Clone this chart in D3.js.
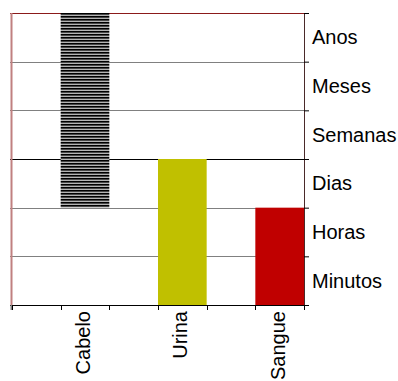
<!DOCTYPE html>
<html>
<head>
<meta charset="utf-8">
<script src="https://cdn.jsdelivr.net/npm/d3@7"></script>
<style>
  body { margin: 0; background: #fff; }
  text { font-family: "Liberation Sans", Arial, sans-serif; }
</style>
</head>
<body>
<div id="chart"></div>
<script>
// data
var categories = ["Cabelo", "Urina", "Sangue"];
var barStart = [2, 0, 0];
var barEnd = [6, 3, 2];
var levels = ["Minutos", "Horas", "Dias", "Semanas", "Meses", "Anos"];
var barFills = ["url(#stripes)", "#c0c000", "#c00000"];

var W = 398, H = 381;
var margin = {top: 13, right: 94, bottom: 76, left: 12},
    width = W - margin.left - margin.right,
    height = H - margin.top - margin.bottom;

var svg = d3.select("#chart").append("svg")
    .attr("width", W)
    .attr("height", H);

// striped pattern for Cabelo
var pat = svg.append("defs").append("pattern")
    .attr("id", "stripes")
    .attr("patternUnits", "userSpaceOnUse")
    .attr("width", 4)
    .attr("height", 3);
pat.append("rect").attr("width", 4).attr("height", 3).attr("fill", "#b4b4b4");
pat.append("rect").attr("width", 4).attr("height", 1.6).attr("fill", "#000");

var g = svg.append("g")
    .attr("transform", "translate(" + margin.left + "," + margin.top + ")");

var x = d3.scaleBand()
    .domain(categories)
    .range([0, width])
    .padding(0);

var y = d3.scaleLinear()
    .domain([0, levels.length])
    .range([height, 0]);

var bw = x.bandwidth();

// horizontal grid
var gridColors = ["#000", "#808080", "#808080", "#000", "#808080", "#808080", "#8b1a1a"];
g.selectAll(".grid")
  .data(d3.range(levels.length + 1))
  .enter().append("line")
    .attr("x1", -2)
    .attr("x2", width)
    .attr("y1", function(d) { return Math.round(y(d)) + 0.5; })
    .attr("y2", function(d) { return Math.round(y(d)) + 0.5; })
    .attr("stroke", function(d, i) { return gridColors[i]; })
    .attr("stroke-width", 1);

// bars (right half of each category slot)
g.selectAll(".bar")
  .data(categories)
  .enter().append("rect")
    .attr("x", function(d) { return x(d) + bw / 2; })
    .attr("width", bw / 2)
    .attr("y", function(d, i) { return y(barEnd[i]); })
    .attr("height", function(d, i) { return y(barStart[i]) - y(barEnd[i]); })
    .attr("fill", function(d, i) { return barFills[i]; });

// left axis line
g.append("line")
    .attr("x1", -0.5).attr("x2", -0.5)
    .attr("y1", 0).attr("y2", height)
    .attr("stroke", "#c08080")
    .attr("stroke-width", 2);
g.append("line")
    .attr("x1", -0.5).attr("x2", -0.5)
    .attr("y1", height).attr("y2", height + 5)
    .attr("stroke", "#808080")
    .attr("stroke-width", 2);

// bottom ticks at slot edges
var tickXs = [];
categories.forEach(function(d) { tickXs.push(x(d), x(d) + bw / 2); });
tickXs.push(width);
g.selectAll(".xtick")
  .data(tickXs)
  .enter().append("line")
    .attr("x1", function(d) { return Math.round(d) + 0.5; })
    .attr("x2", function(d) { return Math.round(d) + 0.5; })
    .attr("y1", height)
    .attr("y2", height + 5)
    .attr("stroke", "#000");

// bottom labels, rotated
g.selectAll(".xlabel")
  .data(categories)
  .enter().append("text")
    .attr("transform", function(d) {
      return "translate(" + (x(d) + bw * 0.75) + "," + (height + 6) + ")rotate(-90)";
    })
    .attr("text-anchor", "end")
    .attr("dy", "0.25em")
    .style("font-size", "20px")
    .attr("fill", "#000")
    .text(function(d) { return d; });

// right axis
var yAxis = d3.axisRight(y)
    .tickValues(d3.range(levels.length + 1))
    .tickSize(5)
    .tickFormat("");
var ya = g.append("g")
    .attr("transform", "translate(" + width + ",0)")
    .call(yAxis);
ya.select(".domain").attr("stroke", "#4a2a2a");
ya.selectAll(".tick line").attr("stroke", "#000");

g.selectAll(".ylabel")
  .data(levels)
  .enter().append("text")
    .attr("x", width + 8)
    .attr("y", function(d, i) { return y(i + 0.5); })
    .attr("dy", "0.35em")
    .style("font-size", "20px")
    .attr("fill", "#000")
    .text(function(d) { return d; });
</script>
</body>
</html>
